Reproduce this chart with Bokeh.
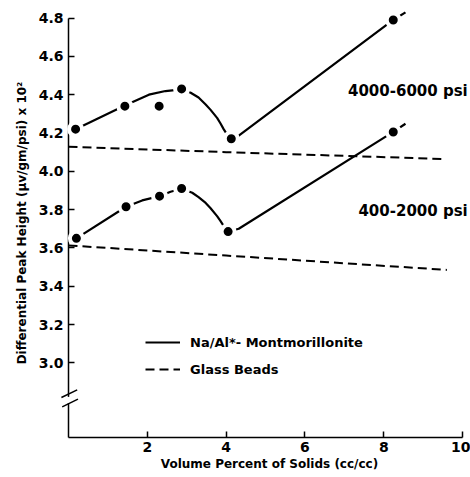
from bokeh.plotting import figure
from bokeh.models import Legend, LegendItem, FixedTicker, NumeralTickFormatter
from bokeh.core.properties import value
from bokeh.embed import file_html
from bokeh.resources import INLINE

# ---- data ----
# Na/Al-Montmorillonite, 4000-6000 psi (measured points)
high_x = [0.18, 1.43, 2.30, 2.87, 4.13, 8.24]
high_y = [4.22, 4.34, 4.34, 4.43, 4.17, 4.79]
# hand-drawn curve through them
high_curve_x = [0.18, 1.43, 2.04, 2.46, 2.87, 3.10, 3.30, 3.48, 3.60, 3.77, 3.85, 3.94, 4.03, 4.13, 4.32, 8.24, 8.55]
high_curve_y = [4.219, 4.344, 4.40, 4.419, 4.428, 4.41, 4.385, 4.349, 4.322, 4.279, 4.252, 4.219, 4.190, 4.170, 4.186, 4.79, 4.83]

# Na/Al-Montmorillonite, 400-2000 psi
low_x = [0.20, 1.46, 2.31, 2.87, 4.05, 8.24]
low_y = [3.65, 3.815, 3.87, 3.91, 3.685, 4.205]
low_curve_x = [0.20, 1.46, 1.87, 2.31, 2.59, 2.87, 3.14, 3.30, 3.48, 3.60, 3.77, 3.85, 3.94, 4.00, 4.05, 4.32, 8.24, 8.55]
low_curve_y = [3.650, 3.815, 3.848, 3.870, 3.893, 3.909, 3.888, 3.865, 3.835, 3.808, 3.766, 3.742, 3.714, 3.697, 3.684, 3.700, 4.206, 4.248]

# Glass beads
glass_high_x = [0.0, 4.0, 9.55]
glass_high_y = [4.128, 4.10, 4.064]
glass_low_x = [0.0, 4.0, 9.6]
glass_low_y = [3.613, 3.56, 3.485]

y_ticks = [3.0, 3.2, 3.4, 3.6, 3.8, 4.0, 4.2, 4.4, 4.6, 4.8]
x_ticks = [2, 4, 6, 8, 10]

label_text = ["4000-6000 psi", "400-2000 psi"]
label_x = [10.13, 10.13]
label_y = [4.42, 3.792]

FONT = "DejaVu Sans"

p = figure(width=470, height=477, x_range=(0, 10.2), y_range=(2.61, 4.85),
           output_backend="svg", toolbar_location=None,
           min_border_left=68, min_border_right=0, min_border_top=8, min_border_bottom=40)
p.outline_line_color = None
p.xgrid.visible = False
p.ygrid.visible = False
p.background_fill_color = "white"
p.border_fill_color = "white"

# axes
for ax in (p.xaxis[0], p.yaxis[0]):
    ax.major_tick_in = 6
    ax.major_tick_out = 0
    ax.minor_tick_in = 0
    ax.minor_tick_out = 0
    ax.axis_line_color = "black"
    ax.axis_line_width = 1.5
    ax.major_tick_line_color = "black"
    ax.major_tick_line_width = 1.5
    ax.major_label_text_font = FONT
    ax.major_label_text_font_style = "bold"
    ax.major_label_text_font_size = "14px"
    ax.major_label_text_color = "black"
    ax.axis_label_text_font = FONT
    ax.axis_label_text_font_style = "bold"
    ax.axis_label_text_font_size = "12px"
    ax.axis_label_text_color = "black"

p.xaxis.ticker = FixedTicker(ticks=x_ticks)
p.xaxis.bounds = (0, 10)
p.xaxis.major_label_standoff = 4
p.xaxis.axis_label_standoff = 2
p.xaxis.axis_label = "Volume Percent of Solids (cc/cc)"

p.yaxis.ticker = FixedTicker(ticks=y_ticks)
p.yaxis.formatter = NumeralTickFormatter(format="0.0")
p.yaxis.bounds = (2.61, 4.8)
p.yaxis.major_label_standoff = 5
p.yaxis.axis_label_standoff = 7
p.yaxis.axis_label = "Differential Peak Height (\u03bcv/gm/psi) x 10\u00b2"

# solid curves
r_high = p.line(high_curve_x, high_curve_y, line_color="black", line_width=2.2,
                line_join="round", level="overlay")
p.line(low_curve_x, low_curve_y, line_color="black", line_width=2.2,
       line_join="round", level="overlay")

# points with white halo
p.scatter(high_x, high_y, size=13, fill_color="black", line_color="white", line_width=4, level="overlay")
p.scatter(low_x, low_y, size=13, fill_color="black", line_color="white", line_width=4, level="overlay")

# glass beads dashed lines
r_glass = p.line(glass_high_x, glass_high_y, line_color="black", line_width=2, line_dash="9 5", level="overlay")
p.line(glass_low_x, glass_low_y, line_color="black", line_width=2, line_dash="9 5", level="overlay")

# pressure labels
p.text(label_x, label_y, text=label_text, text_align="right", text_baseline="middle",
       text_font=value(FONT), text_font_style="bold", text_font_size="15px",
       text_color="black", level="overlay")

# axis break
p.segment(x0=[0], y0=[2.790], x1=[0], y1=[2.822], line_color="white", line_width=4, level="overlay")
p.segment(x0=[-0.18, -0.16], y0=[2.819, 2.770], x1=[0.22, 0.24], y1=[2.859, 2.810],
          line_color="black", line_width=1.5, level="overlay")

legend = Legend(items=[LegendItem(label="Na/Al*- Montmorillonite", renderers=[r_high]),
                       LegendItem(label="Glass Beads", renderers=[r_glass])],
                location=(77, 58), orientation="vertical",
                glyph_width=35, glyph_height=20, label_height=20, spacing=7,
                label_standoff=10, padding=0, margin=0,
                border_line_color=None, background_fill_alpha=0)
legend.label_text_font = FONT
legend.label_text_font_style = "bold"
legend.label_text_font_size = "13px"
legend.label_text_color = "black"
p.add_layout(legend)

open("out.html", "w").write(file_html(p, INLINE))
